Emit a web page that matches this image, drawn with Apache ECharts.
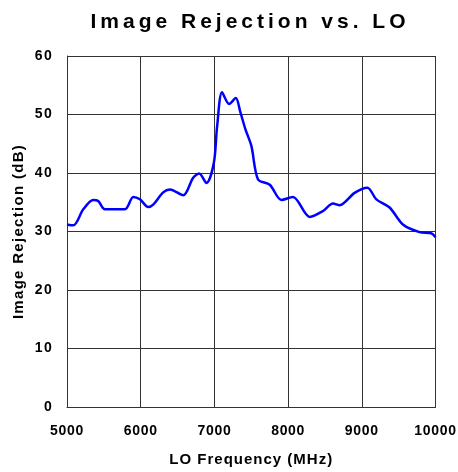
<!DOCTYPE html>
<html><head><meta charset="utf-8">
<script src="https://cdn.jsdelivr.net/npm/echarts@6/dist/echarts.min.js"></script>
<style>html,body{margin:0;padding:0;background:#fff}#c{width:458px;height:472px}</style>
</head><body><div id="c"></div>
<script>
const freqMHz = [5000,5086,5221,5356,5424,5515,5786,5899,5989,6102,6170,6305,6396,6576,6712,6793,6893,6992,7037,7104,7199,7290,7350,7420,7502,7592,7751,7909,8066,8293,8473,8608,8699,8902,9075,9197,9377,9557,9783,9942,10000];
const rejectionDb = [31.2,31.05,33.8,35.4,35.2,33.8,33.8,35.9,35.5,34.2,34.6,36.7,37.2,36.2,39.2,39.9,38.3,41.7,48.0,53.8,51.8,52.8,50.5,47.5,44.6,38.9,38.0,35.4,35.9,32.5,33.5,34.8,34.5,36.6,37.5,35.5,34.1,31.2,29.9,29.7,29.0];
const xTicks = [5000,6000,7000,8000,9000,10000];
const yTicks = [0,10,20,30,40,50,60];
const titleText = 'Image Rejection vs. LO';
const xName = 'LO Frequency (MHz)';
const yName = 'Image Rejection (dB)';

// letter spacing for selected texts (canvas letterSpacing)
const spacing = {};
spacing[titleText] = '4px';
spacing[xName] = '1px';
spacing[yName] = '1.3px';
xTicks.forEach(t => spacing[String(t)] = '0.7px');
const origFill = CanvasRenderingContext2D.prototype.fillText;
CanvasRenderingContext2D.prototype.fillText = function (t, x, y, m) {
  const sp = spacing[t];
  if (sp && 'letterSpacing' in this) {
    const prev = this.letterSpacing;
    this.letterSpacing = sp;
    if (m === undefined) origFill.call(this, t, x, y); else origFill.call(this, t, x, y, m);
    this.letterSpacing = prev;
  } else {
    if (m === undefined) origFill.call(this, t, x, y); else origFill.call(this, t, x, y, m);
  }
};

const font = 'Liberation Sans, Arial, sans-serif';
const chart = echarts.init(document.getElementById('c'));
chart.setOption({
  animation:false,
  title:{text:titleText,left:245,textAlign:'center',top:7,
    textStyle:{fontFamily:font,fontWeight:'bold',fontSize:21,color:'#000'}},
  grid:{left:67,right:22,top:56,bottom:64},
  xAxis:{type:'value',min:xTicks[0],max:xTicks[xTicks.length-1],interval:1000,
    name:xName,nameLocation:'middle',nameGap:45,
    nameTextStyle:{fontFamily:font,fontWeight:'bold',fontSize:15,color:'#000'},
    axisLine:{show:true,lineStyle:{color:'#333',width:1}},axisTick:{show:false},
    axisLabel:{fontFamily:font,fontWeight:'bold',fontSize:14,color:'#000',margin:17,
      formatter:v=>String(v)},
    splitLine:{show:true,lineStyle:{color:'#333',width:1}}},
  yAxis:{type:'value',min:yTicks[0],max:yTicks[yTicks.length-1],interval:10,
    name:yName,nameLocation:'middle',nameGap:41,
    nameTextStyle:{fontFamily:font,fontWeight:'bold',fontSize:15,color:'#000'},
    axisLine:{show:true,lineStyle:{color:'#333',width:1}},axisTick:{show:false},
    axisLabel:{fontFamily:font,fontWeight:'bold',fontSize:14,color:'#000',margin:14,
      formatter:v=>String(v)},
    splitLine:{show:true,lineStyle:{color:'#333',width:1}}},
  series:[{type:'line',data:freqMHz.map((f,i)=>[f,rejectionDb[i]]),smooth:0.3,
    symbol:'none',lineStyle:{color:'#0000ff',width:2.5}}]
});
</script></body></html>
